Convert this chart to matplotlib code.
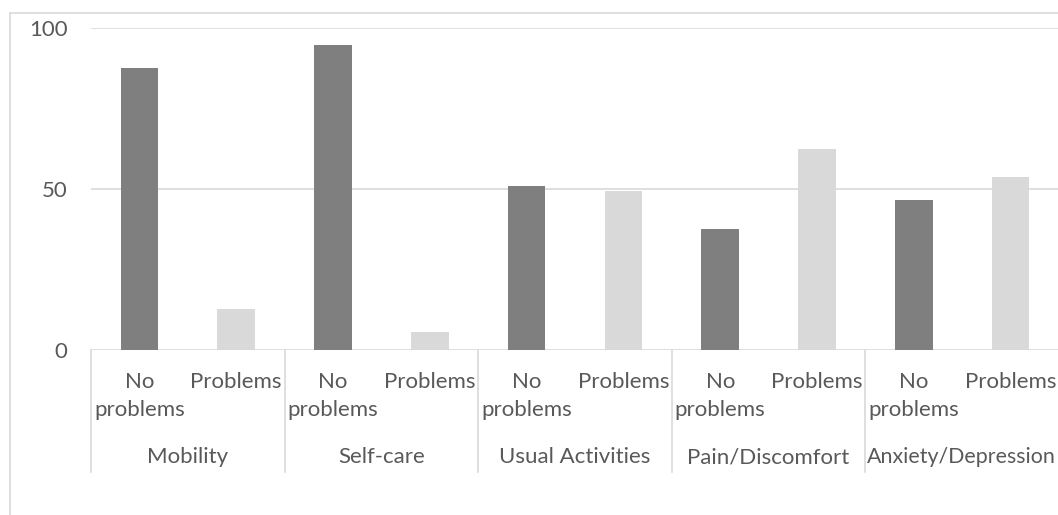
import matplotlib.pyplot as plt
import numpy as np

# EQ-5D dimensions, share of respondents (%) per answer
dimensions = ['Mobility', 'Self-care', 'Usual Activities', 'Pain/Discomfort', 'Anxiety/Depression']
no_problems = [87.5, 94.6, 50.8, 37.5, 46.4]
problems = [12.5, 5.4, 49.2, 62.5, 53.6]
y_ticks = [0, 50, 100]

grid_col = '#d9d9d9'
text_col = '#595959'
dark = '#7f7f7f'
light = '#d9d9d9'
fs = 16

plt.rcParams['font.family'] = ['Lato', 'DejaVu Sans']

W, H = 1058, 515
fig = plt.figure(figsize=(W / 100, H / 100), dpi=100)

# plot area in pixels: x 91..1059, y 28..349.5
left, right, top, bottom = 91, 1059, 28, 349.5
ax = fig.add_axes([left / W, (H - bottom) / H, (right - left) / W, (bottom - top) / H])

# outer chart frame (left and top edges visible)
fig.add_artist(plt.Line2D([10 / W, 10 / W], [0, (H - 13) / H], color=grid_col, lw=1.2))
fig.add_artist(plt.Line2D([10 / W, 1.0], [(H - 13) / H, (H - 13) / H], color=grid_col, lw=1.2))

n = len(dimensions)
x_no = np.arange(n) * 2
x_pr = x_no + 1
bw = 0.39

for y in y_ticks:
    ax.axhline(y, color=grid_col, lw=1.2, zorder=0)

ax.bar(x_no, no_problems, width=bw, color=dark, zorder=2)
ax.bar(x_pr, problems, width=bw, color=light, zorder=2)

ax.set_xlim(-0.5, 2 * n - 0.5)
ax.set_ylim(0, 100)
ax.set_yticks(y_ticks)
ax.set_yticklabels([str(v) for v in y_ticks], fontsize=fs, color=text_col)
ax.tick_params(axis='y', length=0, pad=17)
ax.set_xticks([])
for s in ax.spines.values():
    s.set_visible(False)

trans = ax.get_xaxis_transform()
px = 1.0 / (bottom - top)  # one pixel in axes-fraction units

# group separators under the axis
for b in np.arange(n + 1) * 2 - 0.5:
    ax.plot([b, b], [0, -(472 - bottom) * px], color=grid_col, lw=1.2,
            transform=trans, clip_on=False)

for i, name in enumerate(dimensions):
    xn, xp = x_no[i], x_pr[i]
    ax.text(xn, -(382 - bottom) * px, 'No', transform=trans, ha='center', va='center',
            fontsize=fs, color=text_col)
    ax.text(xn, -(410 - bottom) * px, 'problems', transform=trans, ha='center', va='center',
            fontsize=fs, color=text_col)
    ax.text(xp, -(382 - bottom) * px, 'Problems', transform=trans, ha='center', va='center',
            fontsize=fs, color=text_col)
    if i == n - 1:
        # last group name is wider than its slot: start it at the separator
        ax.text(xn - 0.5 + 0.02, -(457 - bottom) * px, name, transform=trans, ha='left',
                va='center', fontsize=fs - 0.6, color=text_col)
    else:
        ax.text(xn + 0.5, -(457 - bottom) * px, name, transform=trans, ha='center',
                va='center', fontsize=fs, color=text_col)

fig.savefig('out.png', dpi=100)
